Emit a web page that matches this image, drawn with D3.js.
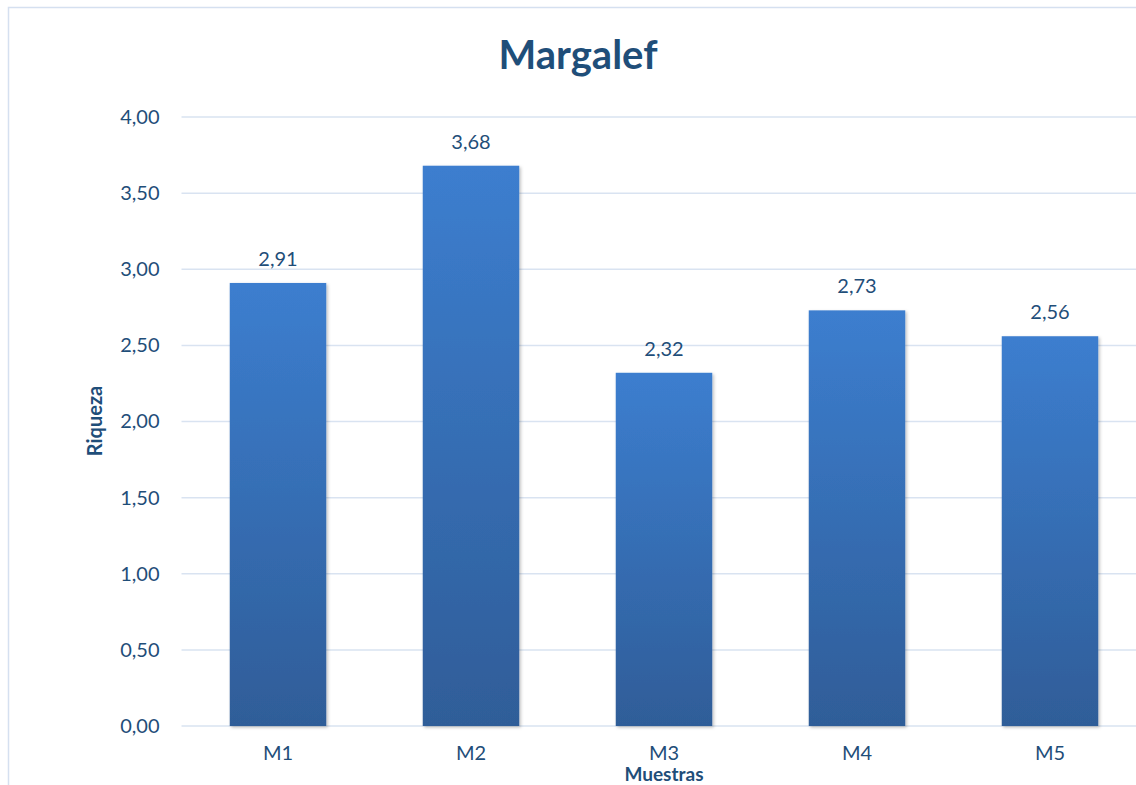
<!DOCTYPE html>
<html>
<head>
<meta charset="utf-8">
<script src="https://cdn.jsdelivr.net/npm/d3@7"></script>
<style>
  html, body { margin: 0; padding: 0; background: #fff; }
  svg { display: block; }
  text { font-family: Lato, "Open Sans", sans-serif; fill: #1F4E79; }
</style>
</head>
<body>
<svg id="chart" width="1136" height="785"></svg>
<script>
const categories = ["M1", "M2", "M3", "M4", "M5"];
const values = [2.91, 3.68, 2.32, 2.73, 2.56];
const yTicks = [0, 0.5, 1, 1.5, 2, 2.5, 3, 3.5, 4];
const chartTitle = "Margalef";
const xTitle = "Muestras";
const yTitle = "Riqueza";

const svg = d3.select("#chart");
const W = 1136, H = 785;
const plot = { left: 181.5, right: 1146.5, top: 117, bottom: 726 };

const fmt = v => d3.format(".2f")(v).replace(".", ",");

const defs = svg.append("defs");
const grad = defs.append("linearGradient")
  .attr("id", "barFill").attr("x1", 0).attr("y1", 0).attr("x2", 0).attr("y2", 1);
grad.append("stop").attr("offset", "0%").attr("stop-color", "#3C7ECF");
grad.append("stop").attr("offset", "100%").attr("stop-color", "#2F5D98");

const shadow = defs.append("filter").attr("id", "barShadow")
  .attr("x", "-10%").attr("y", "-10%").attr("width", "130%").attr("height", "130%");
shadow.append("feDropShadow").attr("dx", 1.5).attr("dy", 1.5)
  .attr("stdDeviation", 1.5).attr("flood-color", "#000").attr("flood-opacity", 0.25);

// chart frame
svg.append("path")
  .attr("d", `M8.5,${H} V7.5 H${W}`)
  .attr("fill", "none").attr("stroke", "#D5E0F0").attr("stroke-width", 1.5);

const x = d3.scaleBand().domain(categories)
  .range([plot.left, plot.right]).paddingInner(0.5).paddingOuter(0.25);
const y = d3.scaleLinear().domain([0, 4]).range([plot.bottom, plot.top]);

// horizontal gridlines
svg.append("g").selectAll("line").data(yTicks).join("line")
  .attr("x1", plot.left).attr("x2", plot.right)
  .attr("y1", d => y(d)).attr("y2", d => y(d))
  .attr("stroke", "#D9E3F1").attr("stroke-width", 1.5);

// y axis labels
const yAxis = d3.axisLeft(y).tickValues(yTicks).tickFormat(fmt).tickSize(0).tickPadding(22);
const gy = svg.append("g").attr("transform", `translate(${plot.left},0)`).call(yAxis);
gy.select(".domain").remove();
gy.selectAll("text").style("font-size", "20px").attr("fill", "#1F4E79")
  .style("font-family", "Lato, 'Open Sans', sans-serif");

// bars
svg.append("g").selectAll("rect").data(values).join("rect")
  .attr("x", (d, i) => x(categories[i]))
  .attr("width", x.bandwidth())
  .attr("y", d => y(d))
  .attr("height", d => y(0) - y(d))
  .attr("fill", "url(#barFill)")
  .attr("filter", "url(#barShadow)");

// value labels
svg.append("g").selectAll("text").data(values).join("text")
  .attr("x", (d, i) => x(categories[i]) + x.bandwidth() / 2)
  .attr("y", d => y(d) - 17)
  .attr("text-anchor", "middle")
  .style("font-size", "20px")
  .text(d => fmt(d));

// x axis labels
const xAxis = d3.axisBottom(x).tickSize(0).tickPadding(20);
const gx = svg.append("g").attr("transform", `translate(0,${plot.bottom})`).call(xAxis);
gx.select(".domain").remove();
gx.selectAll("text").style("font-size", "20px").attr("fill", "#1F4E79")
  .style("font-family", "Lato, 'Open Sans', sans-serif");

// titles
svg.append("text").attr("x", 578).attr("y", 69).attr("text-anchor", "middle")
  .style("font-size", "40px").style("font-weight", "bold").text(chartTitle);

svg.append("text").attr("x", 664).attr("y", 781).attr("text-anchor", "middle")
  .style("font-size", "19px").style("font-weight", "bold").text(xTitle);

svg.append("text").attr("transform", "translate(102,421) rotate(-90)")
  .attr("text-anchor", "middle")
  .style("font-size", "20px").style("font-weight", "bold").text(yTitle);
</script>
</body>
</html>
